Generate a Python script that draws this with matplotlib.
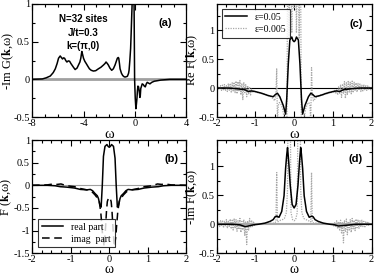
import numpy as np
import matplotlib
matplotlib.use("Agg")
import matplotlib.pyplot as plt
from matplotlib.ticker import MultipleLocator, FuncFormatter

plt.rcParams['font.family'] = ['Liberation Serif', 'DejaVu Serif']
plt.rcParams['mathtext.fontset'] = 'stix'
plt.rcParams['axes.unicode_minus'] = False

# (a) -Im G(k,w)
a_w = [-8.0, -7.2, -6.9, -6.58, -6.35, -6.19, -6.05, -5.94, -5.81, -5.72, -5.63, -5.55, -5.47,
       -5.38, -5.29, -5.18, -5.08, -4.98, -4.9, -4.78, -4.65, -4.5, -4.39, -4.28, -4.21, -4.13,
       -4.07, -4.0, -3.9, -3.79, -3.65, -3.54, -3.4, -3.23, -3.05, -2.84, -2.65, -2.45, -2.33,
       -2.25, -2.15, -2.07, -1.95, -1.81, -1.68, -1.55, -1.45, -1.37, -1.3, -1.26, -1.2, -1.16,
       -1.05, -0.95, -0.85, -0.77, -0.68, -0.59, -0.5, -0.46, -0.4, -0.34, -0.3, -0.26, -0.21,
       -0.14, -0.08, -0.03, 0.02, 0.07, 0.11, 0.15, 0.19, 0.23, 0.28, 0.34, 0.38, 0.41, 0.45,
       0.49, 0.56, 0.65, 0.72, 0.8, 0.88, 0.95, 1.05, 1.16, 1.3, 1.5, 1.68, 2.0, 2.7, 4.0]
a_g = [0.0, 0.005, 0.02, 0.044, 0.09, 0.14, 0.21, 0.28, 0.31, 0.29, 0.27, 0.285, 0.28,
       0.25, 0.23, 0.245, 0.24, 0.21, 0.19, 0.16, 0.13, 0.15, 0.19, 0.23, 0.28, 0.37,
       0.33, 0.28, 0.24, 0.21, 0.17, 0.14, 0.12, 0.11, 0.115, 0.14, 0.16, 0.19, 0.21,
       0.23, 0.21, 0.19, 0.15, 0.12, 0.14, 0.19, 0.24, 0.28, 0.29, 0.28, 0.2, 0.14,
       0.08, 0.05, 0.035, 0.03, 0.035, 0.04, 0.08, 0.12, 0.25, 0.41, 0.6, 0.81, 1.07,
       1.6, 1.2, 0.0, -0.25, -0.39, -0.33, -0.26, -0.15, -0.09, -0.1, -0.17, -0.24, -0.22, -0.12,
       -0.1, -0.06, -0.07, -0.09, -0.1, -0.06, -0.04, -0.05, -0.06, -0.04, -0.025, -0.02, -0.01, 0.0, 0.0]

# (b) F(k,w): real and imaginary parts
b_w = [-2.0, -1.6, -1.4, -1.27, -1.1, -0.9, -0.75, -0.58, -0.49, -0.43, -0.37, -0.31, -0.28,
       -0.24, -0.21, -0.18, -0.15, -0.11, -0.06, -0.03, 0.0, 0.03, 0.06, 0.11, 0.15, 0.18,
       0.21, 0.24, 0.28, 0.31, 0.37, 0.43, 0.49, 0.58, 0.75, 0.9, 1.1, 1.27, 1.4, 1.6, 2.0]
b_re = [0.0, 0.0, -0.01, -0.03, -0.04, -0.06, -0.09, -0.1, -0.09, -0.12, -0.18, -0.23, -0.29,
        -0.44, -0.48, 0.0, 0.64, 0.86, 0.9, 0.86, 0.84, 0.86, 0.9, 0.86, 0.6, 0.0,
        -0.48, -0.44, -0.29, -0.23, -0.18, -0.12, -0.09, -0.1, -0.09, -0.06, -0.04, -0.03, -0.01, 0.0, 0.0]
b_im_w = [-2.0, -1.6, -1.45, -1.35, -1.25, -1.1, -0.9, -0.75, -0.58, -0.45, -0.37, -0.3, -0.26,
          -0.22, -0.19, -0.17, -0.13, -0.1, -0.07, -0.05, -0.02, 0.0, 0.02, 0.05, 0.07, 0.1,
          0.13, 0.17, 0.19, 0.22, 0.26, 0.3, 0.37, 0.45, 0.58, 0.75, 0.9, 1.1, 1.25, 1.35,
          1.45, 1.6, 2.0]
b_im = [0.0, 0.01, 0.03, 0.02, 0.03, -0.01, -0.03, -0.07, -0.1, -0.14, -0.21, -0.29, -0.35,
        -0.59, -0.9, -1.14, -1.35, -0.99, -0.55, -0.36, -0.28, -0.27, -0.28, -0.36, -0.55, -0.99,
        -1.35, -1.14, -0.9, -0.59, -0.35, -0.29, -0.21, -0.14, -0.1, -0.07, -0.03, -0.01, 0.03, 0.02,
        0.03, 0.01, 0.0]

# (c) Re F(k,w) for two broadenings
c_w = [-2.0, -1.7, -1.5, -1.27, -1.18, -1.1, -1.01, -0.84, -0.67, -0.54, -0.48, -0.43, -0.37,
       -0.28, -0.22, -0.19, -0.15, -0.11, -0.06, -0.03, 0.0, 0.03, 0.06, 0.11, 0.15, 0.19,
       0.22, 0.28, 0.37, 0.43, 0.48, 0.54, 0.67, 0.84, 1.01, 1.1, 1.18, 1.27, 1.5, 1.7, 2.0]
c_re1 = [0.0, 0.0, -0.01, -0.03, -0.06, -0.05, -0.06, -0.09, -0.13, -0.15, -0.11, -0.09, -0.15,
         -0.3, -0.45, -0.18, 0.42, 0.83, 0.88, 0.82, 0.8, 0.82, 0.88, 0.83, 0.42, -0.18,
         -0.45, -0.3, -0.15, -0.09, -0.11, -0.15, -0.13, -0.09, -0.06, -0.05, -0.06, -0.03, -0.01, 0.0, 0.0]
c_w2 = [-2.0, -1.975, -1.95, -1.925, -1.9, -1.875, -1.85, -1.825, -1.8, -1.775, -1.75, -1.725,
        -1.7, -1.675, -1.65, -1.625, -1.6, -1.575, -1.55, -1.525, -1.5, -1.475, -1.45, -1.425,
        -1.4, -1.375, -1.35, -1.325, -1.3, -1.275, -1.25, -1.225, -1.2, -1.175, -1.15, -1.125,
        -1.1, -1.075, -1.05, -1.025, -1.0, -0.95, -0.9, -0.85, -0.8, -0.75, -0.7, -0.65, -0.6,
        -0.55, -0.5, -0.47, -0.45, -0.44, -0.43, -0.41, -0.38, -0.34, -0.3, -0.25, -0.22, -0.19,
        -0.16, -0.13, -0.1, -0.06, -0.03, 0.0, 0.03, 0.06, 0.1, 0.13, 0.16, 0.19, 0.22, 0.25,
        0.3, 0.34, 0.38, 0.41, 0.43, 0.44, 0.45, 0.47, 0.5, 0.55, 0.6, 0.65, 0.7, 0.75, 0.8,
        0.85, 0.9, 0.95, 1.0, 1.025, 1.05, 1.075, 1.1, 1.125, 1.15, 1.175, 1.2, 1.225, 1.25,
        1.275, 1.3, 1.325, 1.35, 1.375, 1.4, 1.425, 1.45, 1.475, 1.5, 1.525, 1.55, 1.575, 1.6,
        1.625, 1.65, 1.675, 1.7, 1.725, 1.75, 1.775, 1.8, 1.825, 1.85, 1.875, 1.9, 1.925, 1.95,
        1.975, 2.0]
c_re2 = [0.02, -0.03, 0.03, -0.02, 0.04, -0.04, 0.05, -0.03, 0.06, -0.05, 0.04, -0.06,
         0.07, -0.04, 0.08, -0.07, 0.09, -0.05, 0.1, -0.08, 0.12, -0.1, 0.11, -0.06,
         0.13, -0.12, 0.08, -0.2, 0.1, -0.08, 0.06, -0.15, 0.04, -0.1, 0.02, -0.12,
         -0.02, -0.08, -0.04, -0.07, -0.06, -0.08, -0.07, -0.1, -0.09, -0.12, -0.11, -0.14, -0.15,
         -0.18, -0.22, -0.1, 0.33, -0.1, -0.6, -0.3, -0.25, -0.28, -0.35, -0.55, -2.0, -1.0,
         3.0, 0.85, 2.5, 0.95, 2.5, 1.37, 2.5, 0.95, 2.5, 0.85, 3.0, -1.0, -2.0, -0.55,
         -0.35, -0.28, -0.25, -0.3, -0.6, -0.1, 0.35, -0.1, -0.22, -0.18, -0.15, -0.14, -0.11, -0.12, -0.09,
         -0.1, -0.07, -0.08, -0.06, -0.07, -0.04, -0.1, -0.02, -0.12, 0.02, -0.1, 0.05, -0.16, 0.07,
         -0.09, 0.11, -0.18, 0.09, -0.12, 0.13, -0.07, 0.1, -0.1, 0.12, -0.08, 0.1, -0.05, 0.09,
         -0.07, 0.08, -0.04, 0.07, -0.06, 0.05, -0.05, 0.06, -0.03, 0.05, -0.04, 0.04, -0.02, 0.03,
         -0.03, 0.02]

# (d) -Im F(k,w) for two broadenings
d_w = [-2.0, -1.6, -1.4, -1.27, -1.18, -1.05, -0.92, -0.75, -0.62, -0.54, -0.49, -0.45, -0.39,
       -0.32, -0.26, -0.22, -0.19, -0.17, -0.14, -0.1, -0.05, 0.0, 0.05, 0.1, 0.14, 0.17, 0.19,
       0.22, 0.26, 0.32, 0.39, 0.45, 0.49, 0.54, 0.62, 0.75, 0.92, 1.05, 1.14, 1.31, 1.6, 2.0]
d_im1 = [0.0, 0.0, -0.01, -0.04, -0.03, -0.01, 0.0, 0.02, 0.05, 0.08, 0.13, 0.14, 0.12,
         0.22, 0.49, 0.96, 1.2, 1.32, 1.08, 0.67, 0.34, 0.28, 0.34, 0.67, 1.08, 1.32, 1.2,
         0.96, 0.49, 0.22, 0.12, 0.14, 0.13, 0.08, 0.05, 0.02, 0.0, -0.01, -0.03, -0.02, 0.0, 0.0]
d_w2 = [-2.0, -1.975, -1.95, -1.925, -1.9, -1.875, -1.85, -1.825, -1.8, -1.775, -1.75, -1.725,
        -1.7, -1.675, -1.65, -1.625, -1.6, -1.575, -1.55, -1.525, -1.5, -1.475, -1.45, -1.425,
        -1.4, -1.375, -1.35, -1.325, -1.3, -1.275, -1.25, -1.225, -1.2, -1.175, -1.15, -1.125,
        -1.1, -1.075, -1.05, -1.025, -1.0, -0.9, -0.8, -0.7, -0.6, -0.5, -0.47, -0.45, -0.43,
        -0.4, -0.35, -0.3, -0.25, -0.2, -0.17, -0.15, -0.13, -0.11, -0.08, -0.04, 0.0, 0.04,
        0.08, 0.11, 0.13, 0.15, 0.17, 0.2, 0.25, 0.3, 0.35, 0.4, 0.43, 0.45, 0.47, 0.5, 0.6,
        0.7, 0.8, 0.9, 1.0, 1.025, 1.05, 1.075, 1.1, 1.125, 1.15, 1.175, 1.2, 1.225, 1.25,
        1.275, 1.3, 1.325, 1.35, 1.375, 1.4, 1.425, 1.45, 1.475, 1.5, 1.525, 1.55, 1.575, 1.6,
        1.625, 1.65, 1.675, 1.7, 1.725, 1.75, 1.775, 1.8, 1.825, 1.85, 1.875, 1.9, 1.925, 1.95,
        1.975, 2.0]
d_im2 = [0.03, -0.02, 0.05, -0.04, 0.06, -0.03, 0.07, -0.06, 0.05, -0.04, 0.08, -0.07,
         0.06, -0.05, 0.09, -0.08, 0.07, -0.1, 0.1, -0.07, 0.08, -0.12, 0.06, -0.09,
         0.1, -0.14, 0.05, -0.1, 0.08, -0.2, 0.04, -0.35, 0.06, -0.1, 0.1, -0.06,
         0.07, -0.04, 0.05, -0.02, 0.01, 0.01, 0.01, 0.02, 0.02, 0.02, 0.05, 0.89, 0.04,
         0.05, 0.07, 0.08, 0.1, 0.2, 0.6, 3.0, 1.5, 3.0, 0.2, 0.08, 0.06, 0.08,
         0.2, 3.0, 1.5, 3.0, 0.6, 0.2, 0.1, 0.08, 0.07, 0.05, 0.04, 0.89, 0.05, 0.02, 0.02,
         0.02, 0.01, 0.01, 0.01, -0.03, 0.04, -0.05, 0.06, -0.08, 0.05, -0.1, 0.07, -0.15, 0.04,
         -0.32, 0.06, -0.12, 0.09, -0.18, 0.05, -0.1, 0.08, -0.14, 0.1, -0.08, 0.07, -0.11, 0.09,
         -0.06, 0.08, -0.07, 0.06, -0.05, 0.07, -0.04, 0.05, -0.06, 0.04, -0.03, 0.05, -0.02, 0.03,
         -0.02, 0.02]

fig = plt.figure(figsize=(3.74, 2.75), dpi=100)
ax_a = fig.add_axes([0.0856, 0.5745, 0.413, 0.411])
ax_c = fig.add_axes([0.5794, 0.5745, 0.414, 0.411])
ax_b = fig.add_axes([0.0856, 0.0789, 0.413, 0.412])
ax_d = fig.add_axes([0.5794, 0.0789, 0.414, 0.412])

fmt = FuncFormatter(lambda v, p: '%g' % round(v, 3))


def style(ax, xmaj, xmin, ymaj, ymin):
    ax.xaxis.set_major_locator(MultipleLocator(xmaj))
    ax.xaxis.set_minor_locator(MultipleLocator(xmin))
    ax.yaxis.set_major_locator(MultipleLocator(ymaj))
    ax.yaxis.set_minor_locator(MultipleLocator(ymin))
    ax.xaxis.set_major_formatter(fmt)
    ax.yaxis.set_major_formatter(fmt)
    ax.tick_params(which='both', direction='in', top=True, right=True, labelsize=7.5, pad=1.5)
    ax.tick_params(which='major', length=4, width=0.8)
    ax.tick_params(which='minor', length=2, width=0.8)
    for s in ax.spines.values():
        s.set_linewidth(0.9)


sans = ['Liberation Sans', 'DejaVu Sans']

# (a)
ax_a.axhline(0, color='#a0a0a0', lw=2.0)
ax_a.plot(a_w, a_g, color='black', lw=1.1)
ax_a.set_xlim(-8, 4)
ax_a.set_ylim(-0.5, 1)
style(ax_a, 4, 1, 0.5, 0.25)
ax_a.set_ylabel(r'-Im G($\mathbf{k}$,ω)', fontsize=9)
ax_a.yaxis.set_label_coords(-0.105, 0.5)
ax_a.set_xlabel('ω', fontsize=10.5, labelpad=0)
ax_a.text(0.33, 0.87, 'N=32 sites', transform=ax_a.transAxes, ha='center', va='center',
          fontsize=7, fontweight='bold', family=sans)
ax_a.text(0.33, 0.745, 'J/t=0.3', transform=ax_a.transAxes, ha='center', va='center',
          fontsize=7, fontweight='bold', family=sans)
ax_a.text(0.33, 0.625, 'k=(π,0)', transform=ax_a.transAxes, ha='center', va='center',
          fontsize=7, fontweight='bold', family=sans)
ax_a.text(0.86, 0.83, '(a)', transform=ax_a.transAxes, ha='center', va='center',
          fontsize=8, fontweight='bold', family=sans)

# (b)
ax_b.axhline(0, color='#a0a0a0', lw=0.8)
ax_b.plot(b_w, b_re, color='black', lw=1.1, label='real part')
ax_b.plot(b_im_w, b_im, color='black', lw=1.1, ls=(0, (5, 3)), label='imag  part')
ax_b.set_xlim(-2, 2)
ax_b.set_ylim(-1.5, 1)
style(ax_b, 1, 0.25, 0.5, 0.25)
ax_b.set_ylabel(r'F ($\mathbf{k}$,ω)', fontsize=9)
ax_b.yaxis.set_label_coords(-0.115, 0.5)
ax_b.set_xlabel('ω', fontsize=10, labelpad=-1)
leg = ax_b.legend(loc='lower left', fontsize=7, frameon=True, fancybox=False,
                  edgecolor='black', handlelength=2.2, borderpad=0.4, labelspacing=0.3,
                  borderaxespad=0.6)
leg.get_frame().set_linewidth(0.8)
ax_b.text(0.90, 0.83, '(b)', transform=ax_b.transAxes, ha='center', va='center',
          fontsize=8, fontweight='bold', family=sans)

# (c)
ax_c.axhline(0, color='black', lw=0.8)
ax_c.plot(c_w2, c_re2, color='#a8a8a8', lw=0.9, ls=(0, (1, 1)), label='ε=0.005')
ax_c.plot(c_w, c_re1, color='black', lw=1.1, label='ε=0.05')
ax_c.set_xlim(-2, 2)
ax_c.set_ylim(-0.5, 1.45)
style(ax_c, 1, 0.25, 0.5, 0.25)
ax_c.set_ylabel(r'Re F($\mathbf{k}$,ω)', fontsize=9)
ax_c.yaxis.set_label_coords(-0.105, 0.5)
ax_c.set_xlabel('ω', fontsize=10.5, labelpad=0)
h, l = ax_c.get_legend_handles_labels()
leg = ax_c.legend(h[::-1], l[::-1], loc='upper left', fontsize=7, frameon=True, fancybox=False,
                  edgecolor='black', handlelength=2.2, borderpad=0.4, labelspacing=0.3,
                  borderaxespad=0.5)
leg.get_frame().set_linewidth(0.8)
ax_c.text(0.90, 0.82, '(c)', transform=ax_c.transAxes, ha='center', va='center',
          fontsize=8, fontweight='bold', family=sans)

# (d)
ax_d.axhline(0, color='#a8a8a8', lw=1.5)
ax_d.plot(d_w2, d_im2, color='#a8a8a8', lw=0.9, ls=(0, (1, 1)))
ax_d.plot(d_w, d_im1, color='black', lw=1.1)
ax_d.set_xlim(-2, 2)
ax_d.set_ylim(-0.5, 1.45)
style(ax_d, 1, 0.25, 0.5, 0.25)
ax_d.set_ylabel(r'-Im F($\mathbf{k}$,ω)', fontsize=9)
ax_d.yaxis.set_label_coords(-0.105, 0.5)
ax_d.set_xlabel('ω', fontsize=10, labelpad=-1)
ax_d.text(0.90, 0.83, '(d)', transform=ax_d.transAxes, ha='center', va='center',
          fontsize=8, fontweight='bold', family=sans)

fig.savefig('out.png', dpi=100)
